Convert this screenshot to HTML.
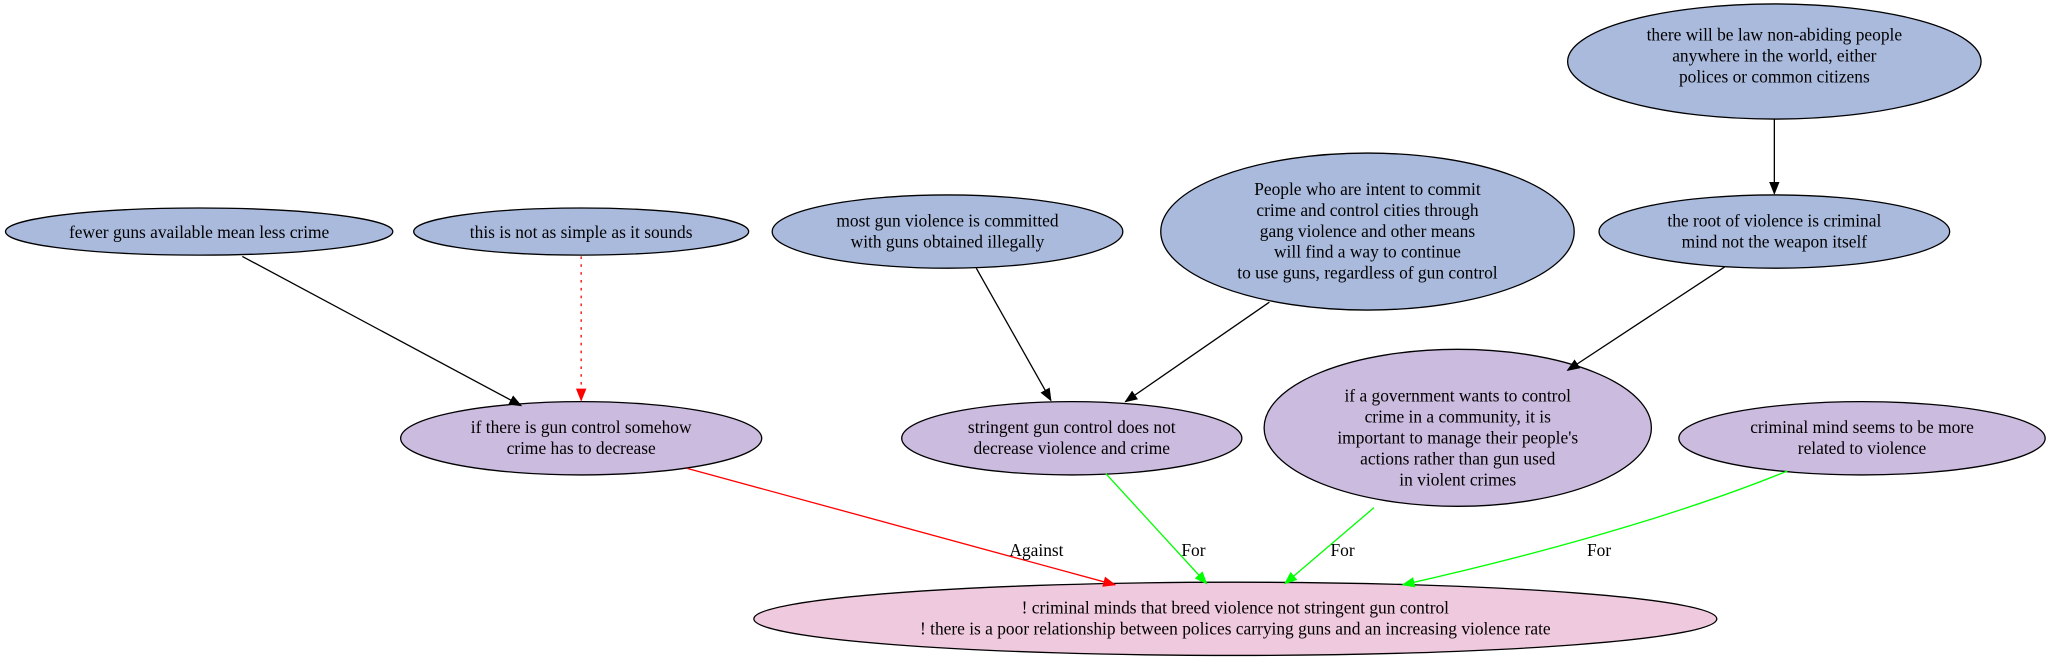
<!DOCTYPE html>
<html><head><meta charset="utf-8"><style>
html,body{margin:0;padding:0;background:#fff;}
svg{display:block;}
text{font-family:"Liberation Serif",serif;font-size:13.3px;fill:#000;text-anchor:middle;}
</style></head><body>
<svg width="2052" height="662" viewBox="0 0 1568 506" xmlns="http://www.w3.org/2000/svg">
<defs>
<marker id="ab" markerWidth="10" markerHeight="8" refX="9" refY="4" orient="auto" markerUnits="userSpaceOnUse"><path d="M0,0L10,4L0,8z" fill="#000"/></marker>
<marker id="ar" markerWidth="10" markerHeight="8" refX="9" refY="4" orient="auto" markerUnits="userSpaceOnUse"><path d="M0,0L10,4L0,8z" fill="#f00"/></marker>
<marker id="ag" markerWidth="10" markerHeight="8" refX="9" refY="4" orient="auto" markerUnits="userSpaceOnUse"><path d="M0,0L10,4L0,8z" fill="#0f0"/></marker>
</defs>
<g stroke="#000" stroke-width="1">
<ellipse cx="152" cy="177" rx="148" ry="18" fill="#aabadd"/>
<ellipse cx="444" cy="177" rx="128" ry="18" fill="#aabadd"/>
<ellipse cx="724" cy="177" rx="134" ry="28" fill="#aabadd"/>
<ellipse cx="1045" cy="177" rx="158" ry="60" fill="#aabadd"/>
<ellipse cx="1356" cy="47" rx="158" ry="44" fill="#aabadd"/>
<ellipse cx="1356" cy="177" rx="134" ry="28" fill="#aabadd"/>
<ellipse cx="444" cy="335" rx="138" ry="28" fill="#cbbbde"/>
<ellipse cx="819" cy="335" rx="130" ry="28" fill="#cbbbde"/>
<ellipse cx="1114" cy="327" rx="148" ry="60" fill="#cbbbde"/>
<ellipse cx="1423" cy="335" rx="140" ry="28" fill="#cbbbde"/>
<ellipse cx="944" cy="473" rx="368" ry="28" fill="#efc9dd"/>
</g>
<g fill="none">
<line x1="185" y1="196" x2="398" y2="310" stroke="#000" marker-end="url(#ab)"/>
<line x1="444" y1="196" x2="444" y2="306" stroke="#f00" stroke-dasharray="2,4" marker-end="url(#ar)"/>
<line x1="746" y1="205" x2="803" y2="306" stroke="#000" marker-end="url(#ab)"/>
<line x1="970" y1="231" x2="860" y2="307" stroke="#000" marker-end="url(#ab)"/>
<line x1="1356" y1="91" x2="1356" y2="148" stroke="#000" marker-end="url(#ab)"/>
<line x1="1318" y1="204" x2="1198" y2="283" stroke="#000" marker-end="url(#ab)"/>
<line x1="525" y1="358" x2="852" y2="447" stroke="#f00" marker-end="url(#ar)"/>
<line x1="845" y1="362" x2="922" y2="446" stroke="#0f0" marker-end="url(#ag)"/>
<line x1="1050" y1="388" x2="982" y2="446" stroke="#0f0" marker-end="url(#ag)"/>
<path d="M1366,360 C1280,395 1170,425 1072,447" stroke="#0f0" marker-end="url(#ag)"/>
</g>
<text x="152" y="182">fewer guns available mean less crime</text>
<text x="444" y="182">this is not as simple as it sounds</text>
<text x="724" y="173">most gun violence is committed</text>
<text x="724" y="189">with guns obtained illegally</text>
<text x="1045" y="149">People who are intent to commit</text>
<text x="1045" y="165">crime and control cities through</text>
<text x="1045" y="181">gang violence and other means</text>
<text x="1045" y="197">will find a way to continue</text>
<text x="1045" y="213">to use guns, regardless of gun control</text>
<text x="1356" y="31">there will be law non-abiding people</text>
<text x="1356" y="47">anywhere in the world, either</text>
<text x="1356" y="63">polices or common citizens</text>
<text x="1356" y="173">the root of violence is criminal</text>
<text x="1356" y="189">mind not the weapon itself</text>
<text x="444" y="331">if there is gun control somehow</text>
<text x="444" y="347">crime has to decrease</text>
<text x="819" y="331">stringent gun control does not</text>
<text x="819" y="347">decrease violence and crime</text>
<text x="1114" y="307">if a government wants to control</text>
<text x="1114" y="323">crime in a community, it is</text>
<text x="1114" y="339">important to manage their people's</text>
<text x="1114" y="355">actions rather than gun used</text>
<text x="1114" y="371">in violent crimes</text>
<text x="1423" y="331">criminal mind seems to be more</text>
<text x="1423" y="347">related to violence</text>
<text x="944" y="469">! criminal minds that breed violence not stringent gun control</text>
<text x="944" y="485">! there is a poor relationship between polices carrying guns and an increasing violence rate</text>
<text x="792" y="425">Against</text>
<text x="912" y="425">For</text>
<text x="1026" y="425">For</text>
<text x="1222" y="425">For</text>
</svg>
</body></html>
